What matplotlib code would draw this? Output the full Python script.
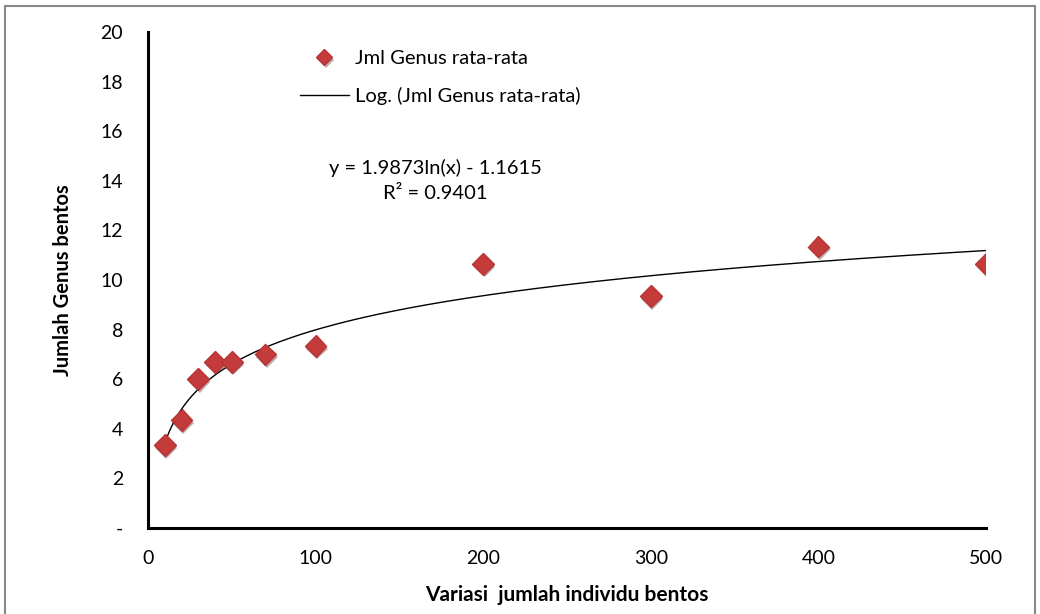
import numpy as np
import matplotlib.pyplot as plt
import matplotlib.patheffects as pe
from matplotlib.patches import Rectangle

plt.rcParams['font.family'] = ['Lato', 'DejaVu Sans']

# data
variasi = [10, 20, 30, 40, 50, 70, 100, 200, 300, 400, 500]
jml_genus = [3.35, 4.35, 6.0, 6.7, 6.7, 7.0, 7.35, 10.65, 9.35, 11.35, 10.65]

# trendline coefficients shown on the chart
koef_a = 1.9873
koef_b = -1.1615
r2 = 0.9401

y_ticks = [0, 2, 4, 6, 8, 10, 12, 14, 16, 18, 20]
y_labels = ['-'] + [str(v) for v in y_ticks[1:]]
x_ticks = [0, 100, 200, 300, 400, 500]

fig = plt.figure(figsize=(10.4, 6.14), dpi=100)
ax = fig.add_axes([0.1423, 0.14, 0.8058, 0.8079])

xs = np.linspace(min(variasi), max(variasi), 400)
ax.plot(xs, koef_a * np.log(xs) + koef_b, color='black', lw=1.0,
        label='Log. (Jml Genus rata-rata)', zorder=2)
ax.plot(variasi, jml_genus, linestyle='none', marker='D', markersize=11,
        color='#C33B3B', markeredgecolor='#B83333', label='Jml Genus rata-rata',
        zorder=3,
        path_effects=[pe.SimplePatchShadow(offset=(1, -2), alpha=0.35), pe.Normal()])

ax.set_xlim(0, 500)
ax.set_ylim(0, 20)
ax.set_xticks(x_ticks)
ax.set_yticks(y_ticks)
ax.set_yticklabels(y_labels)
ax.tick_params(length=0, labelsize=14)
ax.tick_params(axis='y', pad=18)
ax.tick_params(axis='x', pad=16)

for s in ['top', 'right']:
    ax.spines[s].set_visible(False)
for s in ['left', 'bottom']:
    ax.spines[s].set_linewidth(2.2)

ax.set_xlabel('Variasi  jumlah individu bentos', fontsize=15, fontweight='bold', labelpad=13)
ax.set_ylabel('Jumlah Genus bentos', fontsize=14.5, fontweight='bold', labelpad=20)

h, l = ax.get_legend_handles_labels()
ax.legend(h[::-1], l[::-1], loc='upper left', bbox_to_anchor=(0.16, 1.0), frameon=False,
          fontsize=14.5, handlelength=2.4, labelspacing=1.0, handletextpad=0.3,
          markerscale=0.75)

ax.text(0.343, 0.70, 'y = 1.9873ln(x) - 1.1615\nR² = 0.9401', transform=ax.transAxes,
        ha='center', va='center', fontsize=14.5, linespacing=1.55)

fig.patches.append(Rectangle((0.005, -0.01), 0.99, 1.0, transform=fig.transFigure,
                             fill=False, edgecolor='#888888', lw=1.5))

fig.savefig('out.png', dpi=100)
